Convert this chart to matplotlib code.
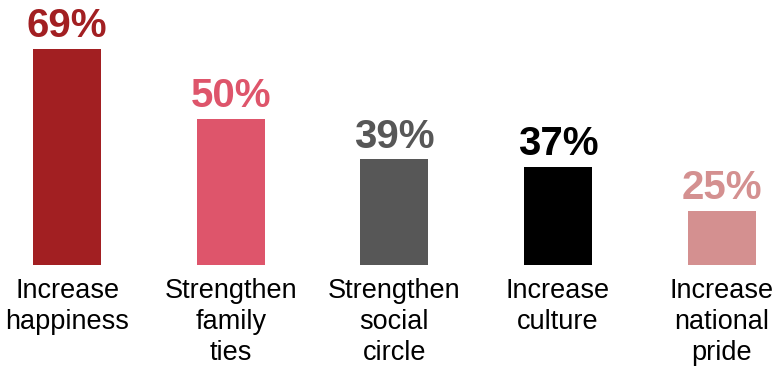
import matplotlib
matplotlib.use("Agg")
import matplotlib.pyplot as plt

categories = ["Increase\nhappiness", "Strengthen\nfamily\nties", "Strengthen\nsocial\ncircle",
              "Increase\nculture", "Increase\nnational\npride"]
values = [69, 50, 39, 37, 25]
colors = ["#A21F22", "#DE556B", "#575757", "#000000", "#D49090"]

plt.rcParams['font.family'] = ['Liberation Sans', 'DejaVu Sans']

fig = plt.figure(figsize=(7.74, 3.67), dpi=100)
W, H = 774, 367
ax = fig.add_axes([0, (H - 265) / H, 1, 265 / H])
x = list(range(len(values)))
ax.bar(x, values, width=0.415, color=colors)
ax.set_xlim(-0.41, 4.32)
ax.set_ylim(10.3, 82.3)
ax.axis('off')

for xi, v, c in zip(x, values, colors):
    ax.annotate(f"{v}%", (xi, v), xytext=(0, 2.5), textcoords='offset points',
                ha='center', va='bottom', fontsize=29, fontweight='bold', color=c)

for xi, lab in zip(x, categories):
    ax.annotate(lab, (xi, 10.3), xytext=(0, -9), textcoords='offset points',
                ha='center', va='top', fontsize=19.5, color='black', linespacing=1.27,
                annotation_clip=False)

fig.savefig("out.png", dpi=100)
